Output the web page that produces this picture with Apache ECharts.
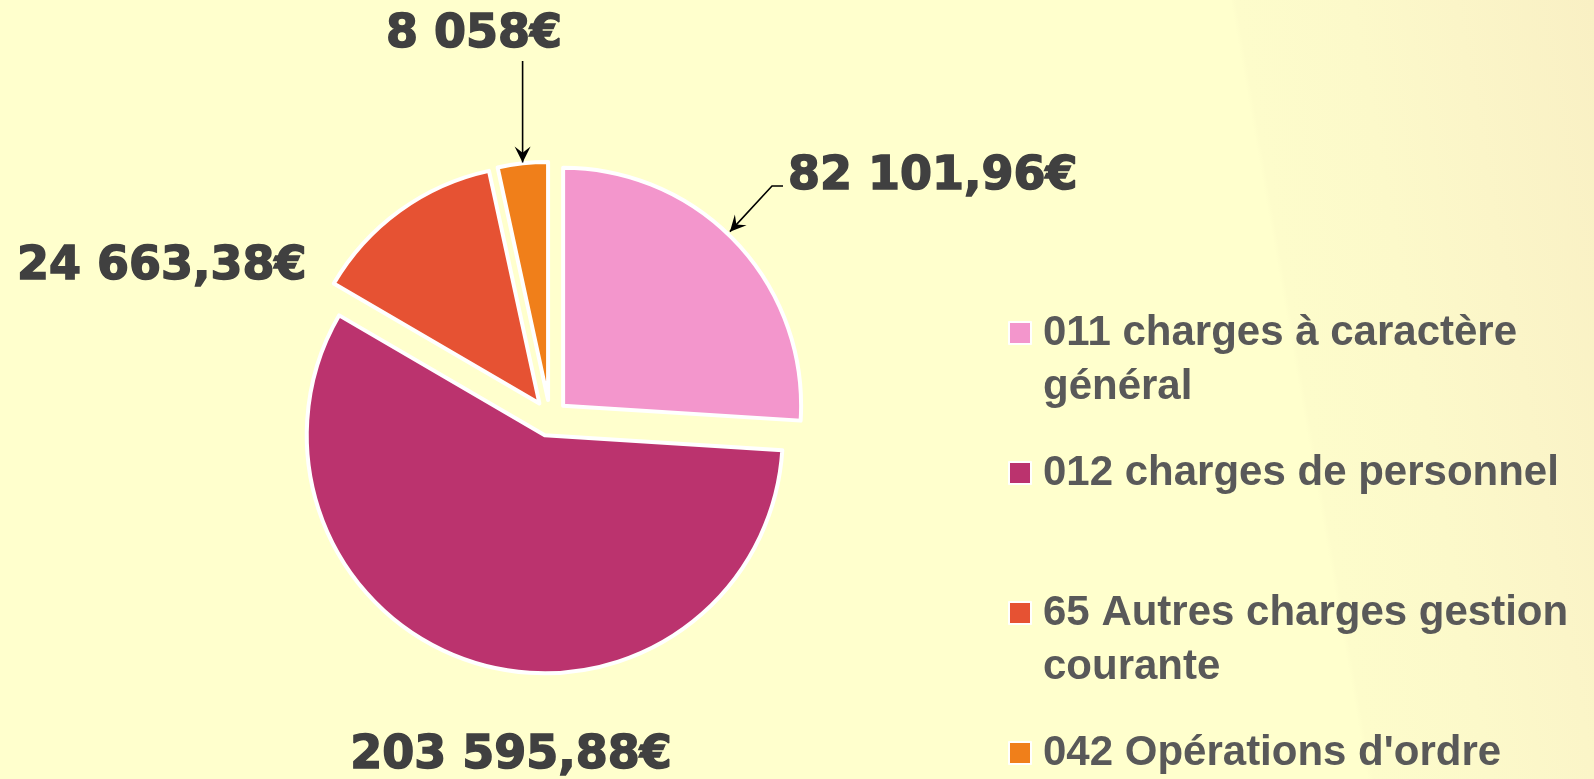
<!DOCTYPE html>
<html>
<head>
<meta charset="utf-8">
<title>Charges de fonctionnement</title>
<script src="https://cdn.jsdelivr.net/npm/echarts@6/dist/echarts.min.js"></script>
<style>
html,body{margin:0;padding:0;overflow:hidden;}
body{background:linear-gradient(80deg,#FFFFCD 0%,#FFFFCD 79%,#FDFCCB 79.3%,#FCF9CA 86%,#FBF5C8 92%,#F9F0C4 100%);}
#chart{width:1594px;height:779px;}
</style>
</head>
<body>
<div id="chart"></div>
<script>
// postes de dépenses
var categories = ['011 charges à caractère général', '012 charges de personnel', '65 Autres charges gestion courante', "042 Opérations d'ordre"];
var legendText = ['011 charges à caractère\ngénéral', '012 charges de personnel', '65 Autres charges gestion\ncourante', "042 Opérations d'ordre"];
// montants écrits sur le graphique
var amounts = [82101.96, 203595.88, 24663.38, 8058];
// part de chaque secteur (%)
var sliceShares = [26.0, 57.4, 13.2, 3.4];
var colors = ['#F396CC', '#BB336E', '#E65233', '#F07F1A'];

var CX = 550, CY = 418, R = 238, EXPLODE = 18;
// emplacement des étiquettes
var labelSpots = [
    {x: 788, y: 177, align: 'left'},
    {x: 511, y: 756, align: 'center'},
    {x: 17, y: 267, align: 'left'},
    {x: 474, y: 35, align: 'center'}
];

function fmt(v) {
    var parts = v.toFixed(2).split('.');
    var ent = parts[0].replace(/\B(?=(\d{3})+(?!\d))/g, ' ');
    return parts[1] === '00' ? ent + '€' : ent + ',' + parts[1] + '€';
}

var total = 0;
sliceShares.forEach(function (v) { total += v; });
// point sur le bord du secteur i, à la fraction f de son angle
function tipOf(i, f, extra) {
    var before = 0;
    for (var j = 0; j < i; j++) before += sliceShares[j];
    var a = (before + sliceShares[i] * f) / total * 2 * Math.PI;
    var r = EXPLODE + R + extra;
    return [CX + r * Math.sin(a), CY - r * Math.cos(a)];
}

function arrow(points) {
    var tip = points[points.length - 1], prev = points[points.length - 2];
    var dx = tip[0] - prev[0], dy = tip[1] - prev[1];
    var len = Math.sqrt(dx * dx + dy * dy);
    var ux = dx / len, uy = dy / len, nx = -uy, ny = ux;
    var L = 16, W = 8;
    return [
        {type: 'polyline', z: 10, shape: {points: points}, style: {stroke: '#000', lineWidth: 1.6, fill: null}},
        {type: 'polygon', z: 10, shape: {points: [
            tip,
            [tip[0] - ux * L + nx * W, tip[1] - uy * L + ny * W],
            [tip[0] - ux * L * 0.6, tip[1] - uy * L * 0.6],
            [tip[0] - ux * L - nx * W, tip[1] - uy * L - ny * W]
        ]}, style: {fill: '#000'}}
    ];
}

var pinkTip = tipOf(0, 0.47, 3);
var orangeTip = tipOf(3, 0.5, 1);
var graphics = arrow([[783, 186], [772, 186], pinkTip]).concat(arrow([[orangeTip[0], 61], orangeTip]));

var myChart = echarts.init(document.getElementById('chart'));
var option = {
    animation: false,
    backgroundColor: 'transparent',
    legend: {
        orient: 'vertical',
        left: 1008,
        top: 252,
        padding: 0,
        itemGap: 32,
        itemWidth: 22,
        itemHeight: 22,
        icon: 'rect',
        itemStyle: {borderColor: '#fff', borderWidth: 2},
        textStyle: {
            fontFamily: 'Liberation Sans', fontWeight: 'bold', fontSize: 42, color: '#595959', lineHeight: 54,
            rich: {
                s: {fontSize: 42, lineHeight: 54},
                g: {width: 7, lineHeight: 54}
            }
        },
        formatter: function (name) {
            var lines = legendText[categories.indexOf(name)].split('\n').map(function (l) { return '{g| }' + l; });
            return (lines.length > 1 ? '{s| }\n' : '') + lines.join('\n');
        },
        data: categories
    },
    graphic: graphics,
    series: [{
        name: 'Dépenses',
        type: 'pie',
        center: [CX, CY],
        radius: R,
        startAngle: 90,
        clockwise: true,
        selectedMode: 'multiple',
        selectedOffset: EXPLODE,
        emphasis: {disabled: true},
        itemStyle: {borderColor: '#fff', borderWidth: 4},
        label: {show: false},
        labelLine: {show: false},
        data: categories.map(function (c, i) {
            return {name: c, value: sliceShares[i], selected: true, itemStyle: {color: colors[i]}};
        })
    }, {
        // série invisible qui ne porte que les montants
        name: 'Montants',
        type: 'pie',
        center: [CX, CY],
        radius: R,
        startAngle: 90,
        clockwise: true,
        silent: true,
        avoidLabelOverlap: false,
        emphasis: {disabled: true},
        itemStyle: {color: 'transparent', borderWidth: 0},
        label: {
            show: true,
            position: 'outside',
            formatter: function (p) { return fmt(amounts[p.dataIndex]); },
            fontFamily: 'DejaVu Sans',
            fontWeight: 'bold',
            fontSize: 46,
            color: '#404040',
            textBorderColor: '#404040',
            textBorderWidth: 1.5
        },
        labelLine: {show: false},
        labelLayout: function (p) {
            var s = labelSpots[p.dataIndex];
            return {x: s.x, y: s.y, align: s.align, verticalAlign: 'middle'};
        },
        data: categories.map(function (c, i) {
            return {name: c, value: sliceShares[i]};
        })
    }]
};
myChart.setOption(option);
</script>
</body>
</html>
